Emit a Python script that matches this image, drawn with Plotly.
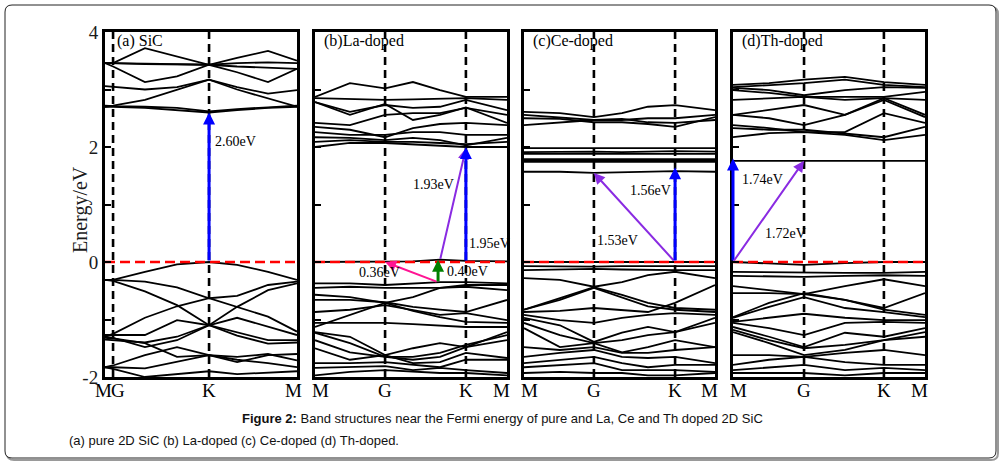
import plotly.graph_objects as go

W, H = 1001, 463

# ---------------- data ----------------
k_a = [0, 0.042, 0.208, 0.375, 0.542, 0.688, 0.849, 1.0]
k_b = [0, 0.182, 0.365, 0.51, 0.651, 0.786, 1.0]
k_c = [0, 0.188, 0.366, 0.513, 0.649, 0.791, 1.0]
k_d = [0, 0.188, 0.37, 0.583, 0.786, 1.0]

sym_a = [("M", 0.0), ("G", 0.042), ("K", 0.542), ("M", 1.0)]
sym_b = [("M", 0.0), ("G", 0.365), ("K", 0.786), ("M", 1.0)]
sym_c = [("M", 0.0), ("G", 0.366), ("K", 0.791), ("M", 1.0)]
sym_d = [("M", 0.0), ("G", 0.37), ("K", 0.786), ("M", 1.0)]

titles = ["(a) SiC", "(b)La-doped", "(c)Ce-doped", "(d)Th-doped"]

bands_a = [
    [3.46, 3.46, 3.72, 3.57, 3.43, 3.55, 3.67, 3.50],
    [3.46, 3.46, 3.45, 3.44, 3.43, 3.46, 3.47, 3.46],
    [3.46, 3.46, 3.44, 3.44, 3.43, 3.40, 3.38, 3.36],
    [3.46, 3.40, 3.13, 3.23, 3.43, 3.30, 3.13, 3.36],
    [3.06, 3.05, 3.00, 3.04, 3.17, 3.04, 2.93, 2.99],
    [2.70, 2.72, 2.82, 2.99, 3.17, 3.00, 2.85, 2.70],
    [2.70, 2.70, 2.68, 2.64, 2.60, 2.64, 2.68, 2.70],
    [2.72, 2.71, 2.70, 2.68, 2.62, 2.66, 2.69, 2.72],
    [-0.31, -0.31, -0.17, -0.04, 0.00, -0.05, -0.17, -0.31],
    [-0.31, -0.31, -0.34, -0.44, -0.63, -0.59, -0.40, -0.34],
    [-0.31, -0.33, -0.51, -0.75, -1.10, -0.78, -0.49, -0.37],
    [-1.30, -1.25, -0.97, -0.77, -0.63, -0.78, -0.95, -1.21],
    [-1.27, -1.27, -1.27, -1.01, -1.10, -0.97, -1.13, -1.27],
    [-1.30, -1.32, -1.48, -1.36, -1.10, -1.22, -1.36, -1.36],
    [-1.35, -1.36, -1.40, -1.30, -1.10, -1.28, -1.42, -1.40],
    [-1.32, -1.33, -1.41, -1.65, -1.62, -1.65, -1.60, -1.71],
    [-1.83, -1.80, -1.62, -1.48, -1.62, -1.74, -1.62, -1.60],
    [-1.83, -1.83, -1.85, -1.74, -1.62, -1.70, -1.76, -1.83],
    [-1.83, -1.86, -2.00, -1.95, -1.90, -1.95, -1.92, -1.90],
]

bands_b = [
    [2.87, 3.11, 3.02, 3.13, 2.99, 2.87, 2.87],
    [2.85, 2.83, 2.82, 2.83, 2.84, 2.85, 2.82],
    [2.78, 2.56, 2.75, 2.47, 2.56, 2.69, 2.42],
    [2.78, 2.61, 2.73, 2.68, 2.70, 2.82, 2.64],
    [2.42, 2.38, 2.56, 2.59, 2.59, 2.68, 2.56],
    [2.35, 2.30, 2.17, 2.33, 2.40, 2.42, 2.38],
    [2.26, 2.21, 2.21, 2.26, 2.26, 2.21, 2.21],
    [2.17, 2.16, 2.12, 2.16, 2.12, 2.03, 2.16],
    [2.09, 2.12, 2.09, 2.09, 2.07, 2.05, 2.09],
    [2.00, 2.07, 2.07, 2.05, 2.02, 2.00, 2.00],
    [0.00, 0.00, 0.00, 0.01, 0.04, 0.02, 0.01],
    [-0.37, -0.37, -0.40, -0.38, -0.35, -0.35, -0.37],
    [-0.45, -0.43, -0.45, -0.45, -0.45, -0.40, -0.40],
    [-0.57, -0.61, -0.71, -0.61, -0.45, -0.43, -0.49],
    [-0.66, -0.66, -0.70, -0.78, -0.83, -0.87, -0.66],
    [-0.87, -0.83, -0.75, -0.83, -0.92, -0.89, -1.01],
    [-1.13, -0.92, -0.71, -0.85, -0.96, -1.04, -1.06],
    [-1.06, -1.06, -1.06, -1.08, -1.10, -1.13, -1.13],
    [-1.22, -1.30, -1.62, -1.50, -1.41, -1.48, -1.22],
    [-1.23, -1.41, -1.65, -1.65, -1.58, -1.44, -1.27],
    [-1.36, -1.57, -1.65, -1.70, -1.65, -1.48, -1.36],
    [-1.50, -1.70, -1.62, -1.76, -1.74, -1.58, -1.67],
    [-1.76, -1.76, -1.74, -1.79, -1.83, -1.70, -1.70],
    [-1.84, -1.83, -1.81, -1.88, -1.84, -1.88, -1.93],
    [-1.97, -1.91, -1.88, -1.91, -1.93, -1.93, -1.97],
]

bands_c = [
    [2.61, 2.59, 2.52, 2.59, 2.70, 2.73, 2.64],
    [2.56, 2.52, 2.47, 2.47, 2.50, 2.50, 2.56],
    [2.50, 2.49, 2.43, 2.43, 2.40, 2.35, 2.52],
    [2.38, 2.43, 2.47, 2.49, 2.43, 2.42, 2.47],
    [1.98, 1.98, 1.98, 1.98, 1.98, 1.98, 1.98],
    [1.91, 1.92, 1.92, 1.91, 1.92, 1.93, 1.92],
    [1.88, 1.88, 1.87, 1.88, 1.88, 1.87, 1.88],
    [1.79, 1.79, 1.79, 1.79, 1.79, 1.79, 1.79],
    [1.76, 1.76, 1.76, 1.76, 1.76, 1.76, 1.76],
    [1.74, 1.74, 1.74, 1.74, 1.74, 1.74, 1.74],
    [1.57, 1.57, 1.55, 1.56, 1.58, 1.58, 1.57],
    [0.00, 0.00, -0.01, 0.00, 0.00, 0.00, 0.00],
    [-0.07, -0.08, -0.08, -0.07, -0.07, -0.06, -0.07],
    [-0.14, -0.13, -0.12, -0.13, -0.14, -0.14, -0.14],
    [-0.28, -0.31, -0.43, -0.35, -0.23, -0.17, -0.28],
    [-0.83, -0.63, -0.44, -0.57, -0.71, -0.80, -0.83],
    [-0.83, -0.66, -0.45, -0.61, -0.77, -0.83, -0.87],
    [-0.87, -0.85, -0.80, -0.83, -0.87, -0.71, -0.40],
    [-0.92, -1.01, -1.06, -0.97, -0.92, -0.89, -0.92],
    [-0.97, -1.10, -1.39, -1.23, -1.13, -1.22, -0.97],
    [-1.06, -1.27, -1.41, -1.36, -1.27, -1.22, -1.06],
    [-1.15, -1.48, -1.41, -1.57, -1.48, -1.36, -1.48],
    [-1.48, -1.53, -1.48, -1.58, -1.58, -1.53, -1.48],
    [-1.65, -1.58, -1.53, -1.65, -1.67, -1.65, -1.76],
    [-1.76, -1.70, -1.65, -1.76, -1.83, -1.79, -1.79],
    [-1.83, -1.79, -1.76, -1.88, -1.88, -1.88, -1.91],
    [-1.93, -1.91, -1.93, -1.93, -1.97, -1.97, -1.93],
]

bands_d = [
    [3.08, 3.11, 3.17, 3.22, 3.13, 3.08],
    [3.04, 3.07, 3.11, 3.17, 3.08, 3.04],
    [3.03, 2.99, 2.90, 2.99, 3.04, 3.03],
    [2.99, 2.94, 2.87, 2.87, 2.87, 2.96],
    [2.82, 2.85, 2.87, 2.82, 2.85, 2.82],
    [2.56, 2.64, 2.73, 2.56, 2.85, 2.56],
    [2.56, 2.50, 2.38, 2.56, 2.82, 2.52],
    [2.38, 2.33, 2.26, 2.26, 2.59, 2.42],
    [2.33, 2.30, 2.30, 2.24, 2.17, 2.35],
    [2.17, 2.24, 2.26, 2.21, 2.12, 2.21],
    [1.76, 1.76, 1.76, 1.76, 1.76, 1.76],
    [0.00, -0.02, -0.05, -0.02, 0.00, 0.00],
    [-0.17, -0.18, -0.19, -0.19, -0.19, -0.17],
    [-0.24, -0.25, -0.26, -0.24, -0.23, -0.24],
    [-0.42, -0.49, -0.56, -0.42, -0.30, -0.42],
    [-0.54, -0.54, -0.56, -0.66, -0.80, -0.54],
    [-0.96, -0.71, -0.54, -0.66, -0.83, -0.92],
    [-0.97, -0.78, -0.61, -0.80, -0.87, -0.96],
    [-1.04, -0.97, -0.90, -0.97, -1.01, -1.01],
    [-1.06, -1.15, -1.27, -1.06, -1.04, -1.06],
    [-1.13, -1.30, -1.48, -1.23, -1.30, -1.15],
    [-1.18, -1.36, -1.50, -1.44, -1.36, -1.22],
    [-1.22, -1.41, -1.62, -1.53, -1.36, -1.30],
    [-1.62, -1.62, -1.65, -1.58, -1.53, -1.62],
    [-1.79, -1.70, -1.65, -1.74, -1.79, -1.79],
    [-1.88, -1.83, -1.79, -1.88, -1.84, -1.88],
    [-1.93, -1.93, -1.93, -1.97, -1.93, -1.93],
]

arrows = [
    (0, 0.542, 0.00, 0.542, 2.60, "#0000FF", 3),
    (1, 0.641, -0.35, 0.365, 0.00, "#FF1493", 2),
    (1, 0.641, -0.36, 0.641, 0.04, "#008000", 3),
    (1, 0.651, 0.03, 0.786, 1.98, "#8A2BE2", 2),
    (1, 0.786, 0.00, 0.786, 2.00, "#0000FF", 3),
    (2, 0.791, 0.00, 0.366, 1.55, "#8A2BE2", 2),
    (2, 0.791, 0.00, 0.791, 1.65, "#0000FF", 3),
    (3, 0.0, 0.00, 0.0, 1.80, "#0000FF", 3),
    (3, 0.0, 0.00, 0.37, 1.76, "#8A2BE2", 2),
]

gap_labels = [
    (0, 0.5625, 2.09, "2.60eV"),
    (1, 0.50, 1.34, "1.93eV"),
    (1, 0.79, 0.33, "1.95eV"),
    (1, 0.219, -0.19, "0.36eV"),
    (1, 0.677, -0.16, "0.40eV"),
    (2, 0.545, 1.25, "1.56eV"),
    (2, 0.372, 0.37, "1.53eV"),
    (3, 0.036, 1.43, "1.74eV"),
    (3, 0.156, 0.49, "1.72eV"),
]

y_ticks = [-2, -1, 0, 1, 2, 3, 4]
y_ticktext = ["-2", "", "0", "", "2", "", "4"]

# ---------------- layout geometry ----------------
px_panels = [(105, 297), (315, 507), (524, 715), (733, 925)]
py_top, py_bot = 32, 377
ydom = [1 - py_bot / H, 1 - py_top / H]

SERIF = "Liberation Serif"
SANS = "Liberation Sans"

ks = [k_a, k_b, k_c, k_d]
bands = [bands_a, bands_b, bands_c, bands_d]
syms = [sym_a, sym_b, sym_c, sym_d]

fig = go.Figure()
layout = dict(width=W, height=H, autosize=False,
              margin=dict(l=0, r=0, t=0, b=0, pad=0, autoexpand=False),
              paper_bgcolor="white", plot_bgcolor="white", showlegend=False,
              font=dict(family=SERIF, color="black"))
annotations = []
shapes = []

for i in range(4):
    sfx = "" if i == 0 else str(i + 1)
    xa, ya = "x" + sfx, "y" + sfx
    x0, x1 = px_panels[i]
    layout["xaxis" + sfx] = dict(domain=[x0 / W, x1 / W], range=[0, 1], anchor=ya,
                                 showline=True, mirror=True, linewidth=3, linecolor="black",
                                 showgrid=False, zeroline=False, showticklabels=False, ticks="",
                                 automargin=False)
    layout["yaxis" + sfx] = dict(domain=ydom, range=[-2, 4], anchor=xa,
                                 showline=True, mirror=True, linewidth=3, linecolor="black",
                                 showgrid=False, zeroline=False, ticks="inside", ticklen=6,
                                 tickwidth=2, tickcolor="black", tickvals=y_ticks,
                                 ticktext=y_ticktext, showticklabels=(i == 0), automargin=False,
                                 tickfont=dict(family=SERIF, size=19, color="#1a1a1a"))
    for b in bands[i]:
        fig.add_trace(go.Scatter(x=ks[i], y=b, mode="lines", xaxis=xa, yaxis=ya,
                                 line=dict(color="black", width=1.8), hoverinfo="skip"))
    for lab, pos in syms[i][1:3]:
        fig.add_trace(go.Scatter(x=[pos, pos], y=[-2, 4], mode="lines", xaxis=xa, yaxis=ya,
                                 line=dict(color="black", width=2.6, dash="8px,5px"),
                                 hoverinfo="skip"))
    fig.add_trace(go.Scatter(x=[0, 1], y=[0, 0], mode="lines", xaxis=xa, yaxis=ya,
                             line=dict(color="#FF0000", width=2.6, dash="10px,5px"),
                             hoverinfo="skip"))
    annotations.append(dict(x=0.035 if i else 0.052, y=3.84, xref=xa, yref=ya, text=titles[i],
                            showarrow=False, xanchor="left", yanchor="middle",
                            font=dict(family=SERIF, size=16, color="black")))
    for j, (lab, pos) in enumerate(syms[i]):
        shift = 0
        if j == 0:
            shift = -2 if i == 0 else 5
        elif j == 3:
            shift = -4 if i == 0 else -6
        elif j == 1 and i == 0:
            shift = 5
        annotations.append(dict(x=pos, y=1 - 390 / H, xref=xa, yref="paper", text=lab,
                                showarrow=False, xanchor="center", yanchor="middle",
                                xshift=shift, font=dict(family=SERIF, size=19, color="black")))

for (p, kt, et, kh, eh, col, w) in arrows:
    sfx = "" if p == 0 else str(p + 1)
    annotations.append(dict(x=kh, y=eh, ax=kt, ay=et, xref="x" + sfx, yref="y" + sfx,
                            axref="x" + sfx, ayref="y" + sfx, text="", showarrow=True,
                            arrowhead=2, arrowsize=0.8 if w >= 3 else 1.1,
                            arrowwidth=w, arrowcolor=col, standoff=0, startstandoff=0))
for (p, kx, e, txt) in gap_labels:
    sfx = "" if p == 0 else str(p + 1)
    annotations.append(dict(x=kx, y=e, xref="x" + sfx, yref="y" + sfx, text=txt,
                            showarrow=False, xanchor="left", yanchor="middle",
                            font=dict(family=SERIF, size=14, color="black")))

annotations.append(dict(x=80 / W, y=1 - 210 / H, xref="paper", yref="paper", text="Energy/eV",
                        textangle=-90, showarrow=False, xanchor="center", yanchor="middle",
                        font=dict(family=SERIF, size=20, color="#1a1a1a")))

annotations.append(dict(x=502 / W, y=1 - 418 / H, xref="paper", yref="paper",
                        text="<b>Figure 2:</b> Band structures near the Fermi energy of pure and La, Ce and Th doped 2D SiC",
                        showarrow=False, xanchor="center", yanchor="middle",
                        font=dict(family=SANS, size=13, color="#111111")))
annotations.append(dict(x=67 / W, y=1 - 440 / H, xref="paper", yref="paper",
                        text="(a) pure 2D SiC (b) La-doped (c) Ce-doped (d) Th-doped.",
                        showarrow=False, xanchor="left", yanchor="middle",
                        font=dict(family=SANS, size=13, color="#111111")))

def px_path(l, t, r, b, rad):
    X = lambda v: v / W
    Y = lambda v: 1 - v / H
    return (f"M {X(l + rad)},{Y(t)} L {X(r - rad)},{Y(t)} Q {X(r)},{Y(t)} {X(r)},{Y(t + rad)} "
            f"L {X(r)},{Y(b - rad)} Q {X(r)},{Y(b)} {X(r - rad)},{Y(b)} "
            f"L {X(l + rad)},{Y(b)} Q {X(l)},{Y(b)} {X(l)},{Y(b - rad)} "
            f"L {X(l)},{Y(t + rad)} Q {X(l)},{Y(t)} {X(l + rad)},{Y(t)} Z")

shapes.append(dict(type="path", xref="paper", yref="paper", path=px_path(7, 7, 998, 460, 7),
                   line=dict(color="#9a9a9a", width=2), layer="below"))
shapes.append(dict(type="path", xref="paper", yref="paper", path=px_path(5, 5, 996, 458, 7),
                   line=dict(color="#222222", width=1), fillcolor="white", layer="below"))

layout["annotations"] = annotations
layout["shapes"] = shapes
fig.update_layout(**layout)
fig.write_html("out.html", config={"responsive": False, "displayModeBar": False},
               post_script="document.body.style.margin='0';document.body.style.overflow='hidden';")
